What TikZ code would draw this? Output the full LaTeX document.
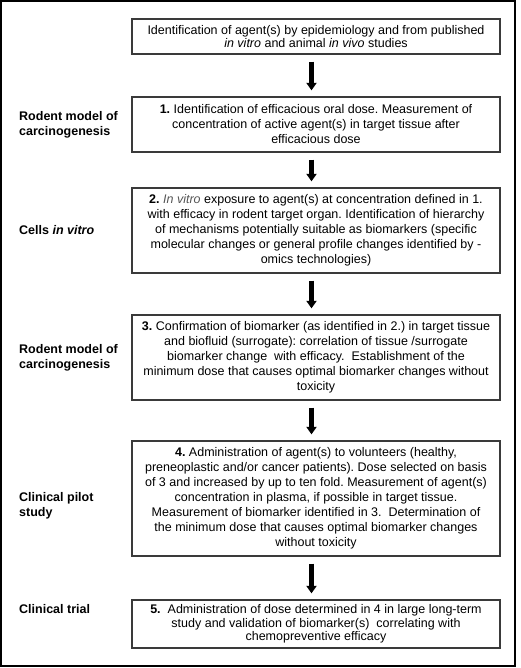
\documentclass[tikz,border=0pt]{standalone}
\usepackage{fontspec}
\setmainfont{Liberation Sans}
\usetikzlibrary{arrows.meta}
\frenchspacing

\definecolor{boxline}{HTML}{3A3A3A}
\definecolor{vitrogray}{HTML}{555555}

\begin{document}
\begin{tikzpicture}[x=1pt,y=-1pt,
	stage/.style={draw=boxline,line width=1.3pt,align=center,minimum width=368pt,inner sep=0pt,font=\fontsize{12.5}{15}\selectfont},
	tight/.style={font=\fontsize{12.5}{13.3}\selectfont},
	phase/.style={anchor=west,align=left,inner sep=0pt,font=\bfseries\fontsize{12.5}{15}\selectfont},
	step arrow/.style={-{Triangle[length=7.5pt,width=10pt]},line width=4.2pt,shorten <=7pt,shorten >=6pt}]
	\useasboundingbox (0,0) rectangle (520,668);
	\draw[line width=2pt] (1,1) rectangle (515,666);

	\node[stage,tight,minimum height=35pt] (S0) at (316,36.5) {Identification of agent(s) by epidemiology and from published\\ \textit{in vitro} and animal \textit{in vivo} studies};
	\node[stage,minimum height=55pt] (S1) at (316,124.5) {\textbf{1.} Identification of efficacious oral dose. Measurement of\\ concentration of active agent(s) in target tissue after\\ efficacious dose};
	\node[stage,minimum height=85pt] (S2) at (316,230.5) {\textbf{2.} \textcolor{vitrogray}{\textit{In vitro}} exposure to agent(s) at concentration defined in 1.\\ with efficacy in rodent target organ. Identification of hierarchy\\ of mechanisms potentially suitable as biomarkers (specific\\ molecular changes or general profile changes identified by -\\ omics technologies)};
	\node[stage,minimum height=85pt] (S3) at (316,357.5) {\textbf{3.} Confirmation of biomarker (as identified in 2.) in target tissue\\ and biofluid (surrogate): correlation of tissue /surrogate\\ biomarker change\ \ with efficacy.\ \ Establishment of the\\ minimum dose that causes optimal biomarker changes without\\ toxicity};
	\node[stage,minimum height=115pt] (S4) at (316,498.5) {\textbf{4.} Administration of agent(s) to volunteers (healthy,\\ preneoplastic and/or cancer patients). Dose selected on basis\\ of 3 and increased by up to ten fold. Measurement of agent(s)\\ concentration in plasma, if possible in target tissue.\\ Measurement of biomarker identified in 3.\ \ Determination of\\ the minimum dose that causes optimal biomarker changes\\ without toxicity};
	\node[stage,tight,minimum height=48pt] (S5) at (316,624) {\textbf{5.}\ \ Administration of dose determined in 4 in large long-term\\ study and validation of biomarker(s)\ \ correlating with\\ chemopreventive efficacy};

	\node[phase] (rodentA) at (19,124.5) {Rodent model of\\carcinogenesis};
	\node[phase] (cells) at (19,230) {Cells \textit{in vitro}};
	\node[phase] (rodentB) at (19,357.5) {Rodent model of\\carcinogenesis};
	\node[phase] (pilot) at (19,505.5) {Clinical pilot\\study};
	\node[phase] (trial) at (19,609) {Clinical trial};

	\foreach \a/\b in {S0/S1,S1/S2,S2/S3,S3/S4,S4/S5}
		\draw[step arrow] ([xshift=-4.5pt]\a.south) -- ([xshift=-4.5pt]\b.north);
\end{tikzpicture}
\end{document}
